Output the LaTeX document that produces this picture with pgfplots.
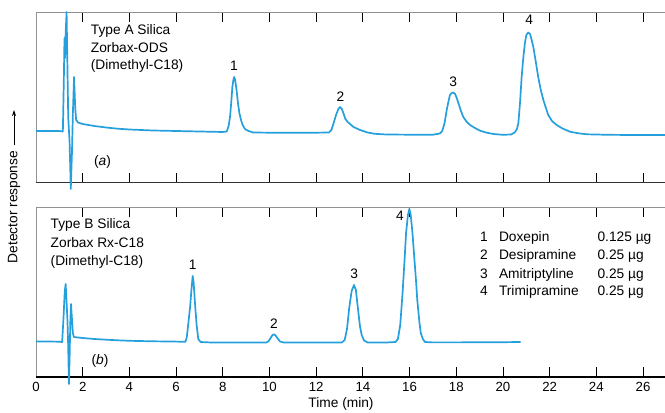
\documentclass[border=0pt]{standalone}
\usepackage{fontspec}
\setmainfont{Liberation Sans}
\usepackage{pgfplots}
\pgfplotsset{compat=1.18}
\usetikzlibrary{arrows.meta}
\definecolor{trace}{RGB}{38,160,220}
\definecolor{framegray}{RGB}{100,100,100}
\newcommand{\fs}{\fontsize{13.8}{16}\selectfont}
\begin{document}
\begin{tikzpicture}[x=1bp,y=1bp]
\pgfplotsset{
 chrom/.style={
  scale only axis, width=629bp, xmin=0, xmax=26.94, ymin=0,
  axis line style={draw=none}, ytick=\empty, tick align=inside,
  major tick length=10bp, tick style={black, line width=0.9bp},
  minor tick num=0,
  clip=false, font=\fs,
  /pgf/number format/assume math mode=true,
  every axis plot/.append style={trace, line width=1.7bp, line join=round},
 }}
% ---------- panel (a)
\begin{axis}[chrom, at={(36bp,230bp)}, anchor=south west, height=171bp, ymax=171,
  xtick={2,4,...,26}, xticklabels=\empty]
\draw[framegray!70, line width=0.9bp] (rel axis cs:0,0) -- (rel axis cs:0,1) -- (rel axis cs:1,1);
\draw[black!80, line width=1bp] (rel axis cs:0,0) -- (rel axis cs:1,0);
\addplot[] coordinates {
(0,52) (0.5,52) (1.0,52) (1.15,51.5)
(1.19,100) (1.22,145) (1.245,125) (1.27,150) (1.31,171) (1.35,110) (1.38,66) (1.44,40) (1.49,-6) (1.54,30) (1.58,70) (1.63,106) (1.68,75) (1.72,63) (1.8,60.5) (2.0,59) (2.5,57) (3,55.5) (3.5,54.3) (4,53.5) (5,52.5) (6,52) (7,51.5) (8.0,51)
(8.17,51.5) (8.25,57) (8.31,66) (8.36,80) (8.41,96) (8.46,104) (8.49,106) (8.53,103) (8.59,93) (8.65,80) (8.71,70) (8.78,63) (8.85,58) (8.95,54) (9.1,52) (9.31,50.5) (10,50.3) (11,50.3) (12,50.3)
(12.55,50.5) (12.65,53) (12.75,60) (12.85,68) (12.95,74) (13.02,76) (13.1,74) (13.18,69) (13.25,64) (13.35,61) (13.45,59) (13.6,56) (13.88,53) (14.2,50.5) (14.5,49.2) (15,48.5) (16,48.3) (17,48.3)
(17.3,49.5) (17.4,52) (17.5,60) (17.59,73) (17.67,82) (17.73,88) (17.8,90) (17.87,90.5) (17.95,89) (18.02,85) (18.09,80) (18.2,72) (18.3,66) (18.45,61) (18.59,58) (18.8,55) (19.02,52.3) (19.3,50.3) (19.59,49) (20.0,48.2)
(20.35,48.5) (20.5,50.5) (20.6,54) (20.66,60) (20.73,80) (20.8,106) (20.87,125) (20.94,140) (21.0,148) (21.08,150.5) (21.16,149) (21.23,143) (21.3,136) (21.4,122) (21.51,106) (21.62,93) (21.73,83) (21.84,75) (21.94,68) (22.1,62) (22.3,58) (22.55,54.5) (22.87,51.3) (23.2,49.8) (23.58,48.7) (24.5,48.2) (25.5,48) (26.94,48)
};
\node[anchor=base west] at (axis cs:2.2,148) {Type A Silica};
\node[anchor=base west] at (axis cs:2.2,130.5) {Zorbax-ODS};
\node[anchor=base west] at (axis cs:2.2,113) {(Dimethyl-C18)};
\node at (axis cs:2.85,21) {(\textit{a})};
\node at (axis cs:8.48,117) {1};
\node at (axis cs:13.04,86) {2};
\node at (axis cs:17.87,101.5) {3};
\node at (axis cs:21.12,163) {4};
\end{axis}
% ---------- panel (b)
\begin{axis}[chrom, at={(36bp,36bp)}, anchor=south west, height=170bp, ymax=170,
  xtick={0,2,...,26}, xticklabel style={font=\fontsize{13.3}{15}\selectfont, yshift=-2bp}]
\draw[framegray!70, line width=0.9bp] (rel axis cs:0,0) -- (rel axis cs:0,1) -- (rel axis cs:1,1);
\draw[black, line width=1.6bp] (rel axis cs:0,0) -- (rel axis cs:1,0);
\addplot[] coordinates {
(0,35.5) (0.5,35.5) (1.0,35.3) (1.12,35) (1.18,60) (1.23,85) (1.27,93) (1.31,75) (1.35,55) (1.38,30) (1.41,-7) (1.44,20) (1.47,55) (1.50,73) (1.54,58) (1.58,44) (1.62,40) (1.8,39.5) (2,39) (2.5,38) (3,37.3) (3.5,36.7) (4,36.2) (5,35.7) (6,35.4)
(6.4,35.2) (6.46,40) (6.53,55) (6.60,70) (6.66,88) (6.71,101) (6.75,95) (6.82,70) (6.88,52) (6.95,38) (7.05,35) (7.5,34.5) (8,34.5) (9,34.4)
(9.85,34.4) (9.95,35.5) (10.05,39) (10.13,42) (10.19,42.7) (10.26,41.5) (10.35,38.5) (10.45,35.5) (10.6,34.5) (11.5,34.4) (12.5,34.4)
(13.1,34.5) (13.22,37) (13.32,48) (13.42,70) (13.52,86) (13.62,92) (13.7,87) (13.81,64) (13.88,50) (13.95,42) (14.05,36.5) (14.2,34.5) (15.0,34.5)
(15.4,35) (15.5,38) (15.6,52) (15.7,84) (15.78,115) (15.85,144) (15.93,162) (15.99,168) (16.05,162) (16.12,145) (16.2,120) (16.28,95) (16.33,77) (16.42,55) (16.48,44) (16.57,38) (16.66,35) (17,34.6) (18,34.6) (19,34.8) (20,34.8) (20.76,35)
};
\node[anchor=base west] at (axis cs:0.48,148) {Type B Silica};
\node[anchor=base west] at (axis cs:0.48,129.5) {Zorbax Rx-C18};
\node[anchor=base west] at (axis cs:0.48,111.5) {(Dimethyl-C18)};
\node at (axis cs:2.74,16) {(\textit{b})};
\node at (axis cs:6.71,112) {1};
\node at (axis cs:10.19,53) {2};
\node at (axis cs:13.63,103) {3};
\node at (axis cs:15.59,161) {4};
\node[anchor=base] at (axis cs:19.19,135) {1};
\node[anchor=base] at (axis cs:19.19,117.5) {2};
\node[anchor=base] at (axis cs:19.19,98.5) {3};
\node[anchor=base] at (axis cs:19.19,81) {4};
\node[anchor=base west] at (axis cs:19.68,135) {Doxepin};
\node[anchor=base west] at (axis cs:19.68,117.5) {Desipramine};
\node[anchor=base west] at (axis cs:19.68,98.5) {Amitriptyline};
\node[anchor=base west] at (axis cs:19.68,81) {Trimipramine};
\node[anchor=base west] at (axis cs:23.90,135) {0.125 µg};
\node[anchor=base west] at (axis cs:23.90,117.5) {0.25 µg};
\node[anchor=base west] at (axis cs:23.90,98.5) {0.25 µg};
\node[anchor=base west] at (axis cs:23.90,81) {0.25 µg};
\end{axis}
% ---------- labels
\node[font=\fs] at (341bp,9bp) {Time (min)};
\node[font=\fs, rotate=90] at (14bp,206bp) {Detector response};
\draw[black, line width=0.8bp, -{Stealth[length=6bp,width=4bp]}] (14bp,268bp) -- (14bp,303bp);
\pgfresetboundingbox
\path[use as bounding box] (0,0) rectangle (665bp,413bp);
\end{tikzpicture}
\end{document}
